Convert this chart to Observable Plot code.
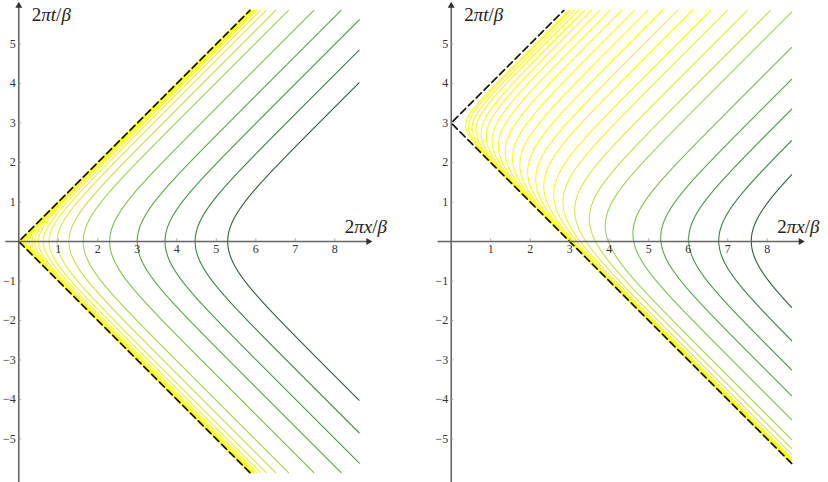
<!DOCTYPE html>
<html><head><meta charset="utf-8">
<script src="https://cdn.jsdelivr.net/npm/d3@7"></script>
<script src="https://cdn.jsdelivr.net/npm/@observablehq/plot@0.6"></script>
<style>
body{margin:0;background:#fff;}
#wrap{position:relative;width:828px;height:482px;display:flex;}
#wrap svg{display:block;}
#wrap svg, #wrap svg text{font-family:"Liberation Serif","Times New Roman",serif !important;}
</style></head><body><div id="wrap"></div>
<script>
// Time (2πt0/β) of the half-line whose modular flow is drawn, one per panel
const panelTimes = [0, 3];
const levels = [0.980, 0.955, 0.906, 0.819, 0.669, 0.452, 0.315, 0.203, 0.1325, 0.0905, 0.0583,
                0.040, 0.0269, 0.018, 0.0122, 0.0082, 0.0055, 0.0037, 0.0025, 0.0017, 0.0011,
                0.00075, 0.0005, 0.00034];
const xTicks = [1, 2, 3, 4, 5, 6, 7, 8];
const yTicks = [-5, -4, -3, -2, -1, 1, 2, 3, 4, 5];
const xLabel = "2πx/β";
const yLabel = "2πt/β";

// ---- layout / style ----
const W = 414, H = 482;
const unit = 39.5;
const originPx = [18.3, 36.7];
const curveXMax = 8.62, curveTMax = 5.85;
const axisXExtent = [-0.33, 8.85];
const axisTExtent = [-6.3, 5.97];
const font = "'Liberation Serif', 'Times New Roman', serif";

// level Q of point (X,T) for the half-line at time T0 (conformal cross-ratio)
function Qof(X, T, T0) {
  const v = X + T, u = X - T;
  const ev = Math.exp(v), eu = Math.exp(u);
  return (ev - Math.exp(T0)) / (ev + Math.exp(-T0)) * (eu - Math.exp(-T0)) / (eu + Math.exp(T0));
}
function solveX(T, T0, q) {
  let lo = Math.abs(T - T0), hi = 40;
  for (let i = 0; i < 60; i++) {
    const m = (lo + hi) / 2;
    if (Qof(m, T, T0) < q) lo = m; else hi = m;
  }
  return (lo + hi) / 2;
}

function panel(T0, k) {
  const Ts = d3.range(-curveTMax, curveTMax + 1e-9, 0.005);
  const curves = [];
  for (const q of levels.slice().reverse()) {
    for (const T of Ts) {
      const X = solveX(T, T0, q);
      if (X <= curveXMax) curves.push({X, T, q});
    }
  }
  const boundary = Ts.map(T => ({X: Math.abs(T - T0), T})).filter(d => d.X <= curveXMax);
  const x0 = originPx[k];
  const svg = Plot.plot({
    width: W, height: H, margin: 0,
    style: {fontFamily: font, background: "white"},
    x: {domain: [-x0 / unit, (W - x0) / unit], range: [0, W], axis: null},
    y: {domain: [-(H / 2) / unit, (H / 2) / unit], range: [H, 0], axis: null},
    color: {type: "linear",
      domain: [0, 0.1, 0.2, 0.32, 0.45, 0.67, 0.82, 0.906, 0.955, 0.98],
      range: ["#ffff1a", "#f4f52e", "#dcea45", "#c2de52", "#a3d257", "#7dbf4f", "#5aa946", "#489846", "#3d8046", "#355d3d"]},
    marks: [
      Plot.line(curves, {x: "X", y: "T", z: "q", stroke: "q", strokeWidth: 1.1}),
      Plot.line(boundary, {x: "X", y: "T", stroke: "#111", strokeWidth: 1.7, strokeDasharray: "7,4"}),
      // axes
      Plot.ruleY([0], {x1: axisXExtent[0], x2: axisXExtent[1], stroke: "#666", strokeWidth: 1.4}),
      Plot.ruleX([0], {y1: axisTExtent[0], y2: axisTExtent[1], stroke: "#555", strokeWidth: 1.4}),
      Plot.dot([0], {x: axisXExtent[1], y: 0, symbol: "triangle", r: 2.6, rotate: 90, fill: "#333", stroke: "none"}),
      Plot.dot([0], {x: 0, y: axisTExtent[1], symbol: "triangle", r: 2.6, fill: "#333", stroke: "none"}),
      Plot.ruleX(xTicks, {x: d => d, y1: 0, y2: 0.07, stroke: "#999", strokeWidth: 0.8}),
      Plot.ruleY(yTicks, {y: d => d, x1: 0, x2: 0.07, stroke: "#999", strokeWidth: 0.8}),
      Plot.text(xTicks, {x: d => d, y: 0, dy: 8, text: d => String(d), fontSize: 12, fontFamily: font, fill: "#333"}),
      Plot.text(yTicks, {x: 0, y: d => d, dx: -3, textAnchor: "end", text: d => d3.format("d")(d).replace("-", "\u2212"), fontSize: 12, fontFamily: font, fill: "#333"}),
      Plot.text([yLabel], {frameAnchor: "top-left", dx: x0 + 13, dy: 14, textAnchor: "start", lineAnchor: "middle", text: d => d, fontSize: 19, fontFamily: font, fill: "#222", className: "axlab"}),
      Plot.text([xLabel], {frameAnchor: "top-left", dx: x0 + 326, dy: 226, textAnchor: "start", lineAnchor: "middle", text: d => d, fontSize: 19, fontFamily: font, fill: "#222", className: "axlab"})
    ]
  });
  // "2" upright, symbols italic
  d3.select(svg).selectAll("g.axlab text").each(function() {
    const t = this.textContent;
    const sel = d3.select(this);
    sel.text(null);
    sel.append("tspan").attr("font-style", "normal").text(t[0]);
    sel.append("tspan").attr("font-style", "italic").text(t.slice(1, 3));
    sel.append("tspan").attr("font-style", "normal").text(t[3]);
    sel.append("tspan").attr("font-style", "italic").text(t.slice(4));
  });
  return svg;
}

const wrap = document.getElementById("wrap");
panelTimes.forEach((T0, k) => wrap.appendChild(panel(T0, k)));
</script></body></html>
